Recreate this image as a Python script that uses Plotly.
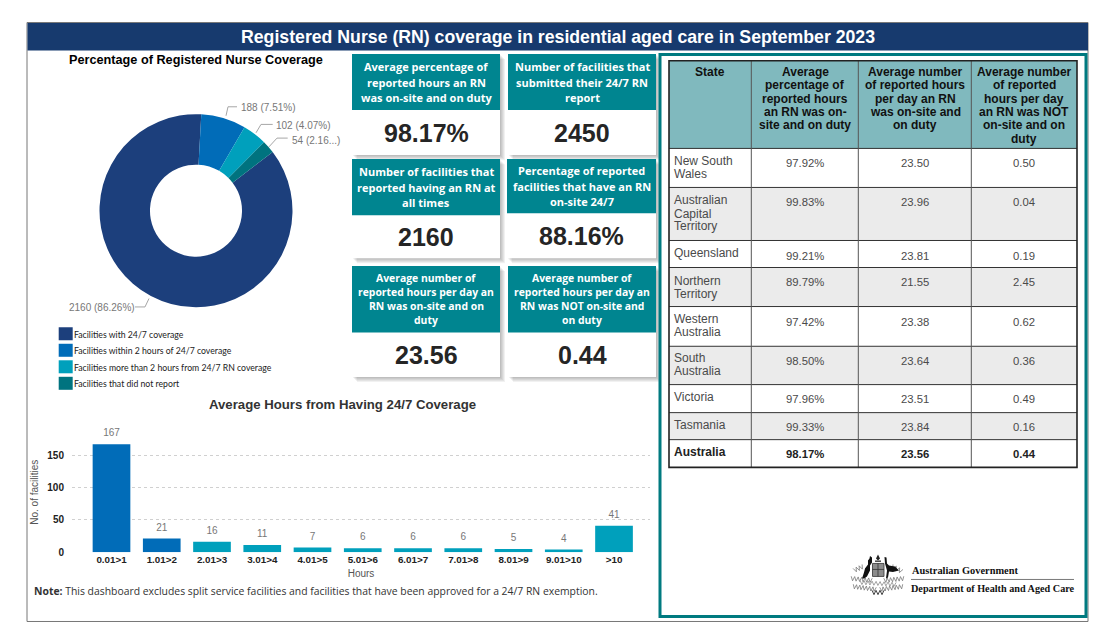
import plotly.graph_objects as go

# ---------- data ----------
coverage_labels = ["Facilities with 24/7 coverage", "Facilities within 2 hours of 24/7 coverage",
                   "Facilities more than 2 hours from 24/7 RN coverage", "Facilities that did not report"]
coverage_values = [2160, 188, 102, 54]
coverage_pct = ["86.26%", "7.51%", "4.07%", "2.16..."]

hour_bins = ["0.01>1", "1.01>2", "2.01>3", "3.01>4", "4.01>5", "5.01>6", "6.01>7", "7.01>8", "8.01>9", "9.01>10", ">10"]
hour_counts = [167, 21, 16, 11, 7, 6, 6, 6, 5, 4, 41]
y_ticks = [0, 50, 100, 150]

kpi_titles = ["Average percentage of<br>reported hours an RN<br>was on-site and on duty",
              "Number of facilities that<br>submitted their 24/7 RN<br>report",
              "Number of facilities that<br>reported having an RN at<br>all times",
              "Percentage of reported<br>facilities that have an RN<br>on-site 24/7",
              "Average number of<br>reported hours per day an<br>RN was on-site and on<br>duty",
              "Average number of<br>reported hours per day an<br>RN was NOT on-site and<br>on duty"]
kpi_values = ["98.17%", "2450", "2160", "88.16%", "23.56", "0.44"]

table_headers = ["State",
                 "Average<br>percentage of<br>reported hours<br>an RN was on-<br>site and on duty",
                 "Average number<br>of reported hours<br>per day an RN<br>was on-site and<br>on duty",
                 "Average number<br>of reported<br>hours per day<br>an RN was NOT<br>on-site and on<br>duty"]
states = ["New South<br>Wales", "Australian<br>Capital<br>Territory", "Queensland", "Northern<br>Territory",
          "Western<br>Australia", "South<br>Australia", "Victoria", "Tasmania", "Australia"]
avg_pct = [97.92, 99.83, 99.21, 89.79, 97.42, 98.50, 97.96, 99.33, 98.17]
avg_on = [23.50, 23.96, 23.81, 21.55, 23.38, 23.64, 23.51, 23.84, 23.56]
avg_off = [0.50, 0.04, 0.19, 2.45, 0.62, 0.36, 0.49, 0.16, 0.44]

# ---------- page geometry (pixels) ----------
W, H = 1117, 643
YSPAN = 637.5
def px(x): return x / W
def py(y): return 1 - y / YSPAN

NAVY, BLUE, CYAN, TEAL = "#1C3F7C", "#016CB8", "#00A0BC", "#00737F"
HEAD_TEAL = "#008590"
SANS = "Liberation Sans"
shapes, annots = [], []

def rect(x0, y0, x1, y1, fill, line=None, lw=0, opacity=None, layer="below"):
    s = dict(type="rect", xref="paper", yref="paper", x0=px(x0), x1=px(x1), y0=py(y0), y1=py(y1),
             fillcolor=fill, line=dict(color=line or "rgba(0,0,0,0)", width=lw), layer=layer)
    if opacity is not None:
        s["opacity"] = opacity
    shapes.append(s)

def seg(points, color, lw=1, layer="above", dash=None):
    d = "M" + " L".join(f"{px(x):.5f},{py(y):.5f}" for x, y in points)
    shapes.append(dict(type="path", xref="paper", yref="paper", path=d,
                       line=dict(color=color, width=lw, dash=dash or "solid"), layer=layer))

def poly(points, fill):
    d = "M" + " L".join(f"{px(x):.5f},{py(y):.5f}" for x, y in points) + " Z"
    shapes.append(dict(type="path", xref="paper", yref="paper", path=d, fillcolor=fill,
                       line=dict(width=0), layer="above"))

def sprig(x0, y0, x1, y1, n=8, amp=2.0, color="#777777", lw=0.8):
    # small zigzag used for the foliage of the crest
    dx, dy = x1 - x0, y1 - y0
    ln = (dx * dx + dy * dy) ** 0.5
    nx, ny = -dy / ln, dx / ln
    pts = []
    for i in range(n + 1):
        t = i / n
        s = amp if i % 2 else -amp
        pts.append((x0 + dx * t + nx * s, y0 + dy * t + ny * s))
    seg(pts, color, lw)

def text(x, y, s, size=11, color="#222", family=SANS, bold=False, anchor="center"):
    annots.append(dict(xref="paper", yref="paper", x=px(x), y=py(y), text=s, showarrow=False,
                       xanchor=anchor, yanchor="middle", borderpad=0, borderwidth=0,
                       font=dict(size=size, color=color, family=family, weight=700 if bold else 400)))

def lines(x, ys, s, **kw):
    for yy, part in zip(ys, s.split("<br>")):
        text(x, yy, part, **kw)

# ---------- frame & banner ----------
rect(27, 22.5, 1088, 621, "white", "#777777", 1)
rect(27.5, 23, 1088, 50.5, "#173A6E")
text(558, 37, "Registered Nurse (RN) coverage in residential aged care in September 2023",
     size=17.7, color="white", bold=True)

# ---------- donut caption, leaders, legend ----------
text(196, 59.5, "Percentage of Registered Nurse Coverage", size=12.7, color="#000", bold=True)
leader_paths = [[(149, 298.3), (145, 306.7), (135, 306.7)],
                [(226, 115.7), (228, 106.7), (237, 106.7)],
                [(256, 132.7), (261, 124.3), (272.7, 124.3)],
                [(269, 146.7), (277, 138), (287.7, 138)]]
label_pos = [(69.3, 307.5), (241, 107.7), (276, 125.3), (291.7, 140)]
for i, v in enumerate(coverage_values):
    seg(leader_paths[i], "#A6A6A6", 1)
    text(label_pos[i][0], label_pos[i][1], f"{v} ({coverage_pct[i]})", size=10, color="#777777", anchor="left")
swatch_cols = [NAVY, BLUE, CYAN, TEAL]
for i, lab in enumerate(coverage_labels):
    y = 327 + i * 16.5
    rect(58.7, y, 72.7, y + 13, swatch_cols[i])
    text(74, y + 7, lab, size=8.7, color="#222", family="Lato", anchor="left")

# ---------- KPI cards ----------
cards = [(352, 54, 110, 155, 500), (508, 54, 110, 155, 656),
         (352, 159, 215, 258, 500), (507, 159, 213, 258, 656),
         (352, 265.7, 332.3, 376.7, 500), (508, 265.7, 332.3, 376.7, 656)]
for (x0, y0, ym, y1, x1), t, v in zip(cards, kpi_titles, kpi_values):
    for k in range(1, 6):
        rect(x0 + k, y0 + k, x1 + k, y1 + k, "#000000", opacity=0.055)
    rect(x0, y0, x1, y1, "white")
    rect(x0, y0, x1, ym, HEAD_TEAL)
    parts = t.split("<br>")
    gap = 14 if len(parts) == 4 else 15.7
    top = (y0 + ym) / 2 - gap * (len(parts) - 1) / 2
    lines((x0 + x1) / 2, [top + i * gap for i in range(len(parts))], t,
          size=10.4 if len(parts) == 4 else 11, color="white", family="Open Sans", bold=True)
    text((x0 + x1) / 2, (ym + y1) / 2 + 0.5, v, size=25, color="#252525", bold=True)

# ---------- table ----------
rect(660, 54.5, 1086, 616, "white", "#007A80", 3)
col_x = [669, 751.3, 858.3, 971.3, 1077]
row_y = [60.7, 148.3, 187.3, 240.3, 267.3, 306.3, 346, 384.3, 412.3, 439.3, 467]
rect(col_x[0], row_y[0], col_x[4], row_y[1], "#80B9BE")
for i in range(1, 9, 2):
    rect(col_x[0], row_y[i + 1], col_x[4], row_y[i + 2], "#EBEBEB")
for y in row_y[1:-1]:
    seg([(col_x[0], y), (col_x[4], y)], "#333333", 1)
for x in col_x[1:4]:
    seg([(x, row_y[0]), (x, row_y[-1])], "#555555", 1)
rect(col_x[0], row_y[0], col_x[4], row_y[-1], "rgba(0,0,0,0)", "#222222", 1.6, layer="above")

centers = [710, 805, 915, 1024]
head_ys = [72.3, 85.3, 99, 112.3, 125.3, 138.7]
for c, h in zip(centers, table_headers):
    lines(c, head_ys, h, size=12, color="#111", bold=True)
state_ys = [[160.7, 174], [200, 213.7, 226], [252.7], [280.5, 294], [319, 332], [357.7, 371], [397], [425], [452]]
val_ys = [163, 201.7, 255.7, 282, 321.7, 360.7, 399, 426.7, 454]
for i, st in enumerate(states):
    b = st == "Australia"
    col = "#222" if b else "#4A4A4A"
    lines(674, state_ys[i], st, size=12, color=col, bold=b, anchor="left")
    text(centers[1], val_ys[i], f"{avg_pct[i]:.2f}%", size=11.3, color=col, bold=b)
    text(centers[2], val_ys[i], f"{avg_on[i]:.2f}", size=11.3, color=col, bold=b)
    text(centers[3], val_ys[i], f"{avg_off[i]:.2f}", size=11.3, color=col, bold=b)

# ---------- crest & department signature ----------
text(911.5, 570, "Australian Government", size=10.4, color="#111", family="Liberation Serif", bold=True, anchor="left")
seg([(911, 579), (1074, 579)], "#555555", 0.8)
text(911, 588, "Department of Health and Aged Care", size=10.2, color="#111", family="Liberation Serif", bold=True, anchor="left")
# foliage
sprig(851, 578, 872, 580, 12, 2.2)
sprig(884, 580, 904, 578, 12, 2.2)
sprig(854, 570, 863, 566, 6, 2.2)
sprig(892, 566, 902, 571, 6, 2.2)
sprig(853, 586, 876, 589, 14, 2.2)
sprig(880, 589, 903, 586, 14, 2.2)
sprig(860, 582, 896, 584, 18, 2.0, "#8A8A8A")
sprig(872, 592, 884, 592, 6, 2.2, "#444444", 1.0)
# kangaroo
poly([(862, 578), (864, 578), (867, 576), (870, 570), (870, 565), (872, 562), (872, 557), (870, 555.5), (869.5, 558),
      (868, 560), (868, 564), (865, 568), (864, 572)], "#111111")
# emu
poly([(886, 578), (888, 577), (889, 571), (893, 571.5), (899, 570), (895, 566), (889, 565), (887, 563), (886.5, 557),
      (884.5, 556.5), (885, 563), (887, 570)], "#111111")
# shield
rect(872.5, 563, 884, 576, "#8C8C8C", "#333333", 0.8, layer="above")
seg([(872.5, 569), (884, 569)], "#333333", 0.8)
seg([(878, 563), (878, 576)], "#333333", 0.8)
# star
poly([(878, 554), (880, 558), (878, 560), (876, 558)], "#222222")
rect(875, 560, 881, 561.5, "#444444", layer="above")

# ---------- bar caption & note ----------
text(342.5, 404, "Average Hours from Having 24/7 Coverage", size=13.2, color="#333", bold=True)
annots.append(dict(xref="paper", yref="paper", x=px(32), y=py(591), showarrow=False, xanchor="left", yanchor="middle",
                   text="<b>Note:</b> This dashboard excludes split service facilities and facilities that have been approved for a 24/7 RN exemption.",
                   font=dict(size=10.4, color="#333", family="Open Sans")))

# ---------- traces ----------
fig = go.Figure()
cx, cy, r = 196, 210.5, 96.5
fig.add_trace(go.Pie(labels=coverage_labels, values=coverage_values, hole=0.477, sort=False, direction="clockwise",
                     rotation=52.6, marker=dict(colors=swatch_cols, line=dict(width=0)), textinfo="none",
                     showlegend=False, domain=dict(x=[px(cx - r), px(cx + r)], y=[py(cy + r), py(cy - r)])))
bar_cols = [BLUE, BLUE] + [CYAN] * 9
fig.add_trace(go.Bar(x=hour_bins, y=hour_counts, marker=dict(color=bar_cols, line=dict(width=0)), width=0.75,
                     showlegend=False))
fig.add_trace(go.Scatter(x=hour_bins, y=hour_counts, mode="markers+text", text=hour_counts, textposition="top center",
                         marker=dict(size=7, opacity=0), cliponaxis=False,
                         textfont=dict(size=10, color="#777777", family=SANS), showlegend=False))

fig.update_layout(
    width=W, height=H, margin=dict(l=0, r=0, t=0, b=0), paper_bgcolor="white", plot_bgcolor="rgba(0,0,0,0)",
    shapes=shapes, annotations=annots, showlegend=False,
    xaxis=dict(domain=[px(72), px(650)], range=[-0.786, 10.716], type="category", showgrid=False, zeroline=False, showline=False,
               ticks="", ticklabelstandoff=0, tickfont=dict(size=9.8, color="#222", family=SANS, weight=700),
               title=dict(text="Hours", font=dict(size=10, color="#555", family=SANS), standoff=6)),
    yaxis=dict(domain=[py(551.7), py(432)], range=[0, 185.3], tickvals=y_ticks, zeroline=False, showline=False,
               gridcolor="#D0D0D0", griddash="dot", gridwidth=1, ticks="", ticklabelstandoff=7,
               tickfont=dict(size=10, color="#222", family=SANS, weight=700),
               title=dict(text="No. of facilities", font=dict(size=10, color="#555", family=SANS), standoff=6)),
)
fig.write_html("out.html", config=dict(displayModeBar=False),
               post_script="document.body.style.margin='0';document.body.style.overflow='hidden';")
